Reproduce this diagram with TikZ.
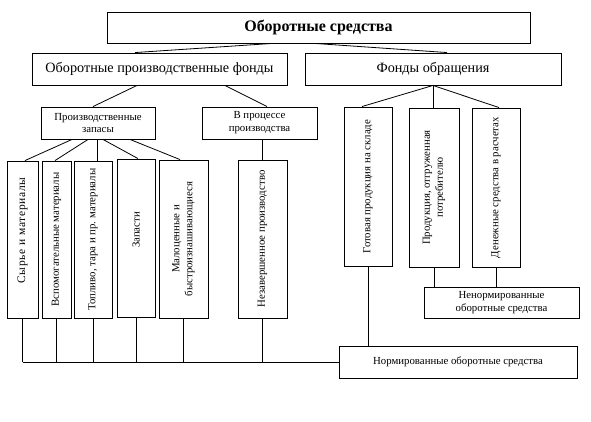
\documentclass[tikz,border=0pt]{standalone}
\usepackage{fontspec}
\setmainfont{Liberation Serif}
\begin{document}
\begin{tikzpicture}[x=1pt,y=-1pt,
  box/.style={draw,line width=0.9pt,inner sep=0pt},
  ln/.style={line width=0.8pt},
  big/.style={font=\fontsize{14.2}{16}\selectfont},
  sm/.style={font=\fontsize{10.8}{12.8}\selectfont,align=center},
  vt/.style={font=\fontsize{10.8}{12.8}\selectfont,align=center,rotate=90}]
\useasboundingbox (0,0) rectangle (591,421);
% boxes
\node[box,minimum width=423pt,minimum height=31pt] (top) at (318.5,27.5) {};
\node[font=\fontsize{16}{18}\selectfont\bfseries] at (top.center) {Оборотные средства};
\node[box,minimum width=255pt,minimum height=32pt] (opf) at (159.5,69) {};
\node[big] at (opf.center) {Оборотные производственные фонды};
\node[box,minimum width=256pt,minimum height=32pt] (fo) at (433,69) {};
\node[big] at (fo.center) {Фонды обращения};
\node[box,minimum width=114pt,minimum height=32pt] (pz) at (98,123) {};
\node[sm] at (pz.center) {Производственные\\запасы};
\node[box,minimum width=115pt,minimum height=32pt] (vp) at (259.5,123) {};
\node[sm] at (vp.center) {В процессе\\производства};
\node[box,minimum width=31pt,minimum height=157pt] (s1) at (22.5,239.5) {};
\node[vt,font=\fontsize{11.5}{13}\selectfont] at ([yshift=9pt]s1.center) {\addfontfeature{LetterSpace=6}Сырье и материалы};
\node[box,minimum width=29pt,minimum height=157pt] (s2) at (56.5,239.5) {};
\node[vt] at (s2.center) {Вспомогательные материалы};
\node[box,minimum width=38pt,minimum height=157pt] (s3) at (93,239.5) {};
\node[vt] at (s3.center) {Топливо, тара и пр. материалы};
\node[box,minimum width=38pt,minimum height=158pt] (s4) at (136,238) {};
\node[vt] at ([yshift=8pt]s4.center) {Запасти};
\node[box,minimum width=49pt,minimum height=158pt] (s5) at (183.5,239) {};
\node[vt] at (s5.center) {Малоценные и\\быстроизнашивающиеся};
\node[box,minimum width=49pt,minimum height=158pt] (nz) at (262.5,239) {};
\node[vt] at (nz.center) {Незавершенное производство};
\node[box,minimum width=48pt,minimum height=159pt] (gp) at (368,186.5) {};
\node[vt] at (gp.center) {Готовая продукция на складе};
\node[box,minimum width=50pt,minimum height=159pt] (po) at (434,187.5) {};
\node[vt] at (po.center) {Продукция, отгруженная\\потребителю};
\node[box,minimum width=48pt,minimum height=159pt] (ds) at (496,187.5) {};
\node[vt] at (ds.center) {Денежные средства в расчетах};
\node[box,minimum width=155pt,minimum height=31pt] (nn) at (501.5,302.5) {};
\node[sm] at (nn.center) {Ненормированные\\оборотные средства};
\node[box,minimum width=238pt,minimum height=32pt] (norm) at (458,362) {};
\node[sm] at (norm.center) {Нормированные оборотные средства};
\coordinate (busL) at (s1.south |- norm.west);
% connectors
\draw[ln] (top.south -| 272,0) -- (opf.north -| 135,0);
\draw[ln] (top.south -| 315,0) -- (fo.north -| 447,0);
\draw[ln] (opf.south -| 137,0) -- (pz.north -| 93,0);
\draw[ln] (opf.south -| 225,0) -- (vp.north -| 267,0);
\draw[ln] (fo.south) -- (gp.north -| 362,0);
\draw[ln] (fo.south) -- (po.north -| fo.south);
\draw[ln] (fo.south) -- (ds.north -| 499,0);
\draw[ln] (pz.south -| 72,0) -- (s1.north -| 25,0);
\draw[ln] (pz.south -| 88,0) -- (s2.north -| 55,0);
\draw[ln] (pz.south -| 97,0) -- (s3.north -| 97,0);
\draw[ln] (pz.south -| 103,0) -- (s4.north -| 138,0);
\draw[ln] (pz.south -| 130,0) -- (s5.north -| 180,0);
\draw[ln] (vp.south -| nz.north) -- (nz.north);
\draw[ln] (po.south) -- (nn.north -| po.south);
\draw[ln] (ds.south) -- (nn.north -| ds.south);
\draw[ln] (gp.south) -- (norm.north -| gp.south);
\draw[ln] (busL) -- (norm.west);
\foreach \n in {s1,s2,s3,s4,s5,nz} \draw[ln] (\n.south) -- (\n.south |- busL);
\end{tikzpicture}
\end{document}
